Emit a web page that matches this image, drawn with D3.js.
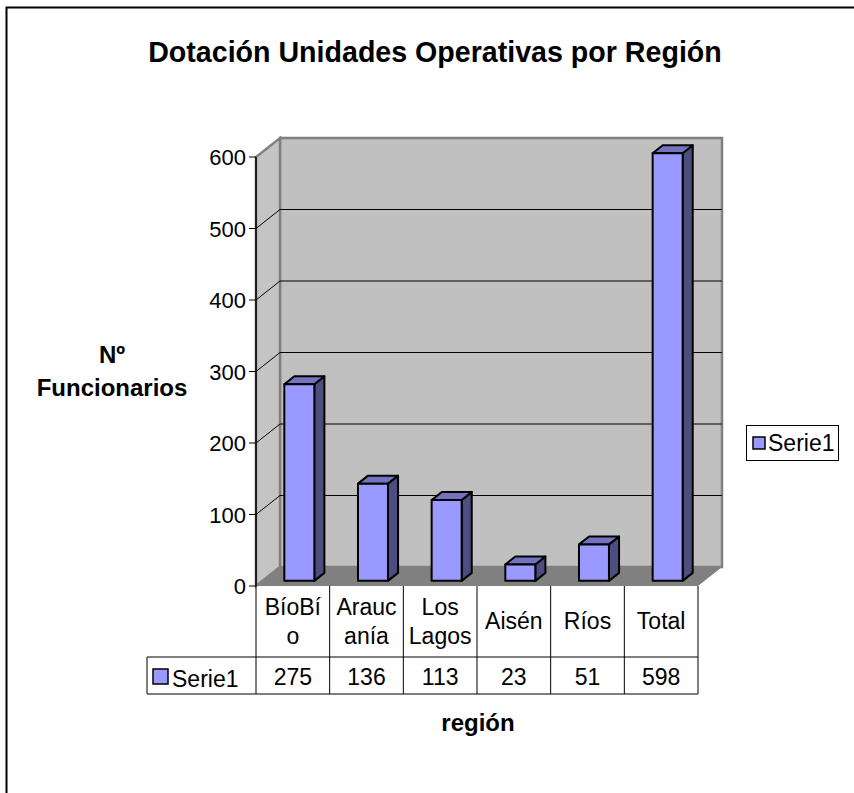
<!DOCTYPE html>
<html>
<head>
<meta charset="utf-8">
<script src="https://cdn.jsdelivr.net/npm/d3@7"></script>
<style>
  body { margin: 0; background: #fff; }
  text { font-family: "Liberation Sans", Arial, sans-serif; }
</style>
</head>
<body>
<div id="vis"></div>
<script>
// data
const categories = ['BíoBío', 'Araucanía', 'Los Lagos', 'Aisén', 'Ríos', 'Total'];
const labelLines = [['BíoBí', 'o'], ['Arauc', 'anía'], ['Los', 'Lagos'], ['Aisén'], ['Ríos'], ['Total']];
const values = [275, 136, 113, 23, 51, 598];
const yTicks = [0, 100, 200, 300, 400, 500, 600];
const seriesName = 'Serie1';

const width = 854;
const height = 793;

// 3d depth of the plot box
const depthX = 24;
const depthY = -19;

const svg = d3.select('#vis').append('svg')
  .attr('width', width)
  .attr('height', height);

// outer frame
svg.append('rect')
  .attr('x', 6.5).attr('y', 7.5)
  .attr('width', 860).attr('height', 800)
  .attr('fill', 'none').attr('stroke', '#000').attr('stroke-width', 2);

svg.append('text')
  .attr('x', 435).attr('y', 62)
  .attr('text-anchor', 'middle')
  .attr('font-weight', 'bold')
  .attr('font-size', 28.6)
  .text('Dotación Unidades Operativas por Región');

const x = d3.scaleBand()
  .domain(categories)
  .range([256, 698]);

const y = d3.scaleLinear()
  .domain([0, 600])
  .range([586, 157]);

const x0 = x.range()[0], x1 = x.range()[1];
const yTop = y(600), yBase = y(0);

// back wall
svg.append('rect')
  .attr('x', x0 + depthX).attr('y', yTop + depthY)
  .attr('width', x1 - x0).attr('height', yBase - yTop)
  .attr('fill', '#c0c0c0').attr('stroke', '#808080').attr('stroke-width', 2.5);

// left wall
svg.append('path')
  .attr('d', `M${x0},${yBase}L${x0},${yTop}L${x0 + depthX},${yTop + depthY}L${x0 + depthX},${yBase + depthY}Z`)
  .attr('fill', '#c4c4c4').attr('stroke', '#808080').attr('stroke-width', 2.5);

// floor
svg.append('path')
  .attr('d', `M${x0},${yBase}L${x1},${yBase}L${x1 + depthX},${yBase + depthY}L${x0 + depthX},${yBase + depthY}Z`)
  .attr('fill', '#808080');

// gridlines
yTicks.filter(d => d > 0 && d < 600).forEach(d => {
  svg.append('path')
    .attr('d', `M${x0},${y(d)}L${x0 + depthX},${y(d) + depthY}L${x1 + depthX},${y(d) + depthY}`)
    .attr('fill', 'none').attr('stroke', '#000').attr('stroke-width', 1);
});

// y axis
svg.append('line')
  .attr('x1', x0).attr('x2', x0)
  .attr('y1', yTop).attr('y2', yBase)
  .attr('stroke', '#000').attr('stroke-width', 1.5);

const yAxis = svg.append('g');
yTicks.forEach(d => {
  yAxis.append('line')
    .attr('x1', x0 - 7).attr('x2', x0)
    .attr('y1', y(d)).attr('y2', y(d))
    .attr('stroke', '#000');
  yAxis.append('text')
    .attr('x', x0 - 10).attr('y', y(d) + 8)
    .attr('text-anchor', 'end')
    .attr('font-size', 22)
    .text(d);
});

svg.append('text')
  .attr('x', 112).attr('y', 363)
  .attr('text-anchor', 'middle')
  .attr('font-weight', 'bold').attr('font-size', 24)
  .text('Nº');
svg.append('text')
  .attr('x', 112).attr('y', 396)
  .attr('text-anchor', 'middle')
  .attr('font-weight', 'bold').attr('font-size', 24)
  .text('Funcionarios');

// bars
const barW = 30;
const barFront = 0.27;
const barDepth = 0.42;
const bdx = depthX * barDepth, bdy = depthY * barDepth;

categories.forEach((c, i) => {
  const cx = x(c) + x.bandwidth() / 2 + depthX * barFront;
  const bx = cx - barW / 2;
  const base = y(0) + depthY * barFront;
  const top = y(values[i]) + depthY * barFront;
  const g = svg.append('g')
    .attr('stroke', '#000').attr('stroke-width', 2).attr('stroke-linejoin', 'round');
  g.append('path')
    .attr('d', `M${bx + barW},${base}L${bx + barW + bdx},${base + bdy}L${bx + barW + bdx},${top + bdy}L${bx + barW},${top}Z`)
    .attr('fill', '#4d4d80');
  g.append('path')
    .attr('d', `M${bx},${top}L${bx + bdx},${top + bdy}L${bx + barW + bdx},${top + bdy}L${bx + barW},${top}Z`)
    .attr('fill', '#7373bf');
  g.append('rect')
    .attr('x', bx).attr('y', top)
    .attr('width', barW).attr('height', base - top)
    .attr('fill', '#9999ff');
});

// data table
const rowTop = yBase, rowMid = 657, rowBot = 694;
const legendColX = 147;
const table = svg.append('g').attr('stroke', '#000').attr('stroke-width', 1);
categories.forEach((c, i) => {
  table.append('line')
    .attr('x1', x(c)).attr('x2', x(c))
    .attr('y1', rowTop).attr('y2', rowBot);
});
table.append('line')
  .attr('x1', x1).attr('x2', x1)
  .attr('y1', rowTop).attr('y2', rowBot);
table.append('line')
  .attr('x1', legendColX).attr('x2', legendColX)
  .attr('y1', rowMid).attr('y2', rowBot);
table.append('line')
  .attr('x1', legendColX).attr('x2', x1)
  .attr('y1', rowMid).attr('y2', rowMid);
table.append('line')
  .attr('x1', legendColX).attr('x2', x1)
  .attr('y1', rowBot).attr('y2', rowBot);

categories.forEach((c, i) => {
  const lines = labelLines[i];
  const cx = x(c) + x.bandwidth() / 2;
  const startY = lines.length === 1 ? 629 : 615;
  lines.forEach((l, j) => {
    svg.append('text')
      .attr('x', cx).attr('y', startY + j * 29)
      .attr('text-anchor', 'middle')
      .attr('font-size', 23)
      .text(l);
  });
  svg.append('text')
    .attr('x', cx).attr('y', 685)
    .attr('text-anchor', 'middle')
    .attr('font-size', 23)
    .text(values[i]);
});

svg.append('rect')
  .attr('x', 153).attr('y', 669)
  .attr('width', 15).attr('height', 15)
  .attr('fill', '#9999ff').attr('stroke', '#000').attr('stroke-width', 1.5);
svg.append('text')
  .attr('x', 172).attr('y', 687)
  .attr('font-size', 23)
  .text(seriesName);

svg.append('text')
  .attr('x', 478).attr('y', 731)
  .attr('text-anchor', 'middle')
  .attr('font-weight', 'bold').attr('font-size', 24)
  .text('región');

// legend
svg.append('rect')
  .attr('x', 746.5).attr('y', 425.5)
  .attr('width', 92).attr('height', 35)
  .attr('fill', '#fff').attr('stroke', '#000').attr('stroke-width', 1);
svg.append('rect')
  .attr('x', 753).attr('y', 437)
  .attr('width', 12).attr('height', 12)
  .attr('fill', '#9999ff').attr('stroke', '#000').attr('stroke-width', 1.5);
svg.append('text')
  .attr('x', 768).attr('y', 451)
  .attr('font-size', 23)
  .text(seriesName);
</script>
</body>
</html>
